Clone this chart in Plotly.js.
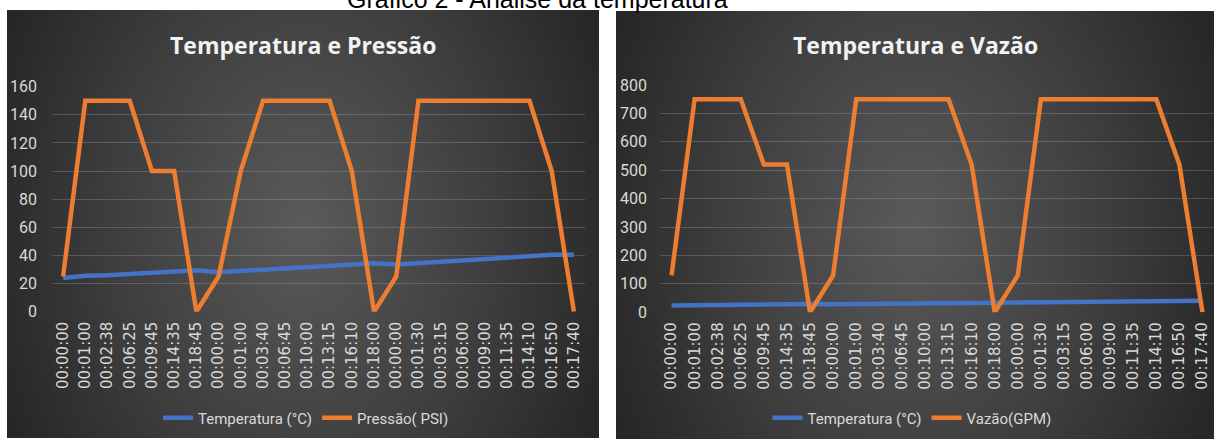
<!DOCTYPE html>
<html><head><meta charset="utf-8">
<script src="https://cdn.plot.ly/plotly-3.0.1.min.js"></script>
<style>
html,body{margin:0;padding:0;background:#fff;width:1214px;height:439px;overflow:hidden;position:relative}
.panel{position:absolute;background:radial-gradient(ellipse 55% 100% at 50% 50%, #5a5a5a 0%, #3d3d3d 60%, #272727 100%);}
#p1{left:7px;top:10px;width:592px;height:428px}
#p2{left:616px;top:11px;width:598px;height:428px}
#chart{position:absolute;left:0;top:0;width:1214px;height:439px}
</style></head><body>
<div class="panel" id="p1"></div><div class="panel" id="p2"></div>
<div id="chart"></div>
<script>
const labels = ["00:00:00","00:01:00","00:02:38","00:06:25","00:09:45","00:14:35","00:18:45","00:00:00","00:01:00","00:03:40","00:06:45","00:10:00","00:13:15","00:16:10","00:18:00","00:00:00","00:01:30","00:03:15","00:06:00","00:09:00","00:11:35","00:14:10","00:16:50","00:17:40"];
const temperatura = [24,25.5,26,27,28,29,29.5,28,29,30,31,32,33,34,34.5,33.5,34.5,35.5,36.5,37.5,38.5,39.5,40.5,40.5];
const pressao = [25,150,150,150,100,100,0,25,100,150,150,150,150,100,0,25,150,150,150,150,150,150,100,0];
const vazao = [130,750,750,750,520,520,0,130,750,750,750,750,750,520,0,130,750,750,750,750,750,750,520,0];
const idx = labels.map((_, i) => i);

const W = 1214, H = 439;
const BLUE = '#4472C4', ORANGE = '#ED7D31';
const tickCol = '#d9d9d9';
const narrow = 'Liberation Sans Narrow, Roboto, sans-serif';

const traces = [
  {x: idx, y: temperatura, name: 'Temperatura (°C)', type: 'scatter', mode: 'lines', line: {color: BLUE, width: 4.5}, xaxis: 'x', yaxis: 'y', legend: 'legend'},
  {x: idx, y: pressao, name: 'Pressão( PSI)', type: 'scatter', mode: 'lines', line: {color: ORANGE, width: 4.5}, xaxis: 'x', yaxis: 'y', legend: 'legend'},
  {x: idx, y: temperatura, name: 'Temperatura (°C)', type: 'scatter', mode: 'lines', line: {color: BLUE, width: 4.5}, xaxis: 'x2', yaxis: 'y2', legend: 'legend2'},
  {x: idx, y: vazao, name: 'Vazão(GPM)', type: 'scatter', mode: 'lines', line: {color: ORANGE, width: 4.5}, xaxis: 'x2', yaxis: 'y2', legend: 'legend2'}
];

function xax(d0, d1, anchor) {
  return {domain: [d0 / W, d1 / W], range: [-0.5, 23.5], tickvals: idx, ticktext: labels, tickangle: -90,
    tickfont: {family: 'DejaVu Sans, sans-serif', size: 15, color: tickCol}, showgrid: false, zeroline: false,
    showline: false, ticks: '', ticklabelstandoff: 6, anchor: anchor, fixedrange: true};
}
function yax(bot, top, max, dt, anchor, standoff) {
  return {domain: [1 - bot / H, 1 - top / H], range: [0, max], dtick: dt, tick0: 0,
    gridcolor: 'rgba(255,255,255,0.17)', gridwidth: 1, zeroline: false, showline: false, ticks: '',
    tickfont: {family: narrow, size: 16, color: tickCol}, ticklabelstandoff: standoff, anchor: anchor, fixedrange: true};
}
function legendAt(cx) {
  return {x: cx / W, xanchor: 'center', y: 1 - 418 / H, yanchor: 'middle', orientation: 'h',
    font: {family: narrow, size: 15, color: tickCol}, bgcolor: 'rgba(0,0,0,0)', itemwidth: 30, tracegroupgap: 0};
}

const layout = {
  width: W, height: H, margin: {l: 0, r: 0, t: 0, b: 0},
  paper_bgcolor: 'rgba(0,0,0,0)', plot_bgcolor: 'rgba(0,0,0,0)',
  showlegend: true,
  xaxis: xax(52, 585, 'y'),
  yaxis: yax(311.7, 86.7, 160, 20, 'x', 14),
  xaxis2: xax(660, 1214, 'y2'),
  yaxis2: yax(312.3, 85, 800, 100, 'x2', 12),
  legend: legendAt(306),
  legend2: legendAt(912),
  annotations: [
    {text: 'Gráfico 2 - Análise da temperatura', xref: 'paper', yref: 'paper', x: 537 / W, y: 1 + 1 / H,
      xanchor: 'center', yanchor: 'middle', showarrow: false, font: {family: 'Liberation Sans, Arial, sans-serif', size: 25, color: '#000'}},
    {text: 'Temperatura e Pressão', xref: 'paper', yref: 'paper', x: 303 / W, y: 1 - 45 / H,
      xanchor: 'center', yanchor: 'middle', showarrow: false, font: {family: 'Open Sans, sans-serif', size: 23, weight: 'bold', color: '#f2f2f2'}},
    {text: 'Temperatura e Vazão', xref: 'paper', yref: 'paper', x: 915 / W, y: 1 - 45 / H,
      xanchor: 'center', yanchor: 'middle', showarrow: false, font: {family: 'Open Sans, sans-serif', size: 23, weight: 'bold', color: '#f2f2f2'}}
  ]
};

Plotly.newPlot('chart', traces, layout, {displayModeBar: false, staticPlot: true});
</script>
</body></html>
